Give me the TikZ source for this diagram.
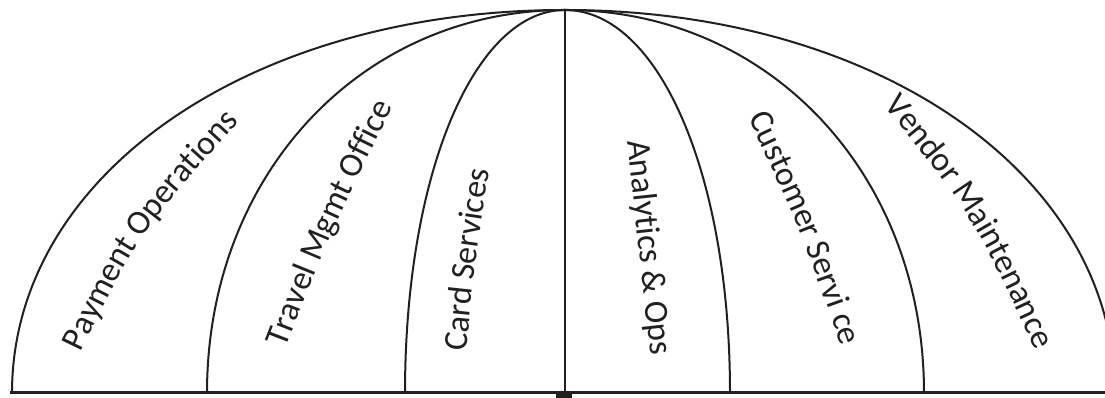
\documentclass[tikz,border=0pt]{standalone}
\usepackage{fontspec}
\setmainfont{Carlito}
\usetikzlibrary{decorations.text}
\definecolor{ink}{RGB}{35,31,32}
\newcommand\labfont{\fontsize{34}{40}\selectfont\color{ink}}
\tikzset{
  arcline/.style={draw=ink, line width=2pt},
  baserule/.style={draw=ink, line width=3pt},
  lab/.style={decorate, decoration={text along path, text={|\labfont|#1}, text align=center, raise=-9pt}}
}
\begin{document}
\begin{tikzpicture}[x=1pt,y=1pt]
\useasboundingbox (0,0) rectangle (1105,398);
\clip (0,0) rectangle (1105,398);
\coordinate (apex) at (565,388);
\coordinate (hub) at (565,5);
\coordinate (bL1) at (12,5);
\coordinate (bL2) at (207,5);
\coordinate (bL3) at (405,5);
\coordinate (bR3) at (730,5);
\coordinate (bR2) at (924,5);
\coordinate (bR1) at (1115,5);
\coordinate (ruleL) at (10,5);
\coordinate (ruleR) at (1105,5);
% ribs
\draw[arcline] (bL1) .. controls +(0,218) and +(-315,0) .. (apex);
\draw[arcline] (bL2) .. controls +(0,218) and +(-204,0) .. (apex);
\draw[arcline] (bL3) .. controls +(0,218) and +(-91,0) .. (apex);
\draw[arcline] (bR3) .. controls +(0,218) and +(94,0) .. (apex);
\draw[arcline] (bR2) .. controls +(0,218) and +(205,0) .. (apex);
\draw[arcline] (bR1) .. controls +(0,218) and +(313,0) .. (apex);
\draw[arcline] (apex) -- (hub);
% base
\draw[baserule] (ruleL) -- (ruleR);
\fill[ink] (556,0) rectangle (572,5);
% labels
\path[lab={Payment Operations}] (60,23.3) .. controls (131.9,172.2) and (131.9,172.2) .. (253,303.7);
\path[lab={Travel Mgmt Office}] (266.9,25.6) .. controls (322.5,170.1) and (322.5,170.1) .. (398.2,321.4);
\path[lab={Card Services}] (454.2,14.2) .. controls (466,138) and (466,138) .. (485.8,261.8);
\path[lab={Analytics {\&} Ops}] (632.8,290.8) -- (663.2,10.2);
\path[lab={Customer Servi ce}] (742.7,312.8) .. controls (808.8,173.2) and (808.8,173.2) .. (860.3,24.2);
\path[lab={Vendor Maintenance}] (869.2,324.5) .. controls (980.1,190.5) and (980.1,190.5) .. (1057.8,20.5);
\end{tikzpicture}
\end{document}
